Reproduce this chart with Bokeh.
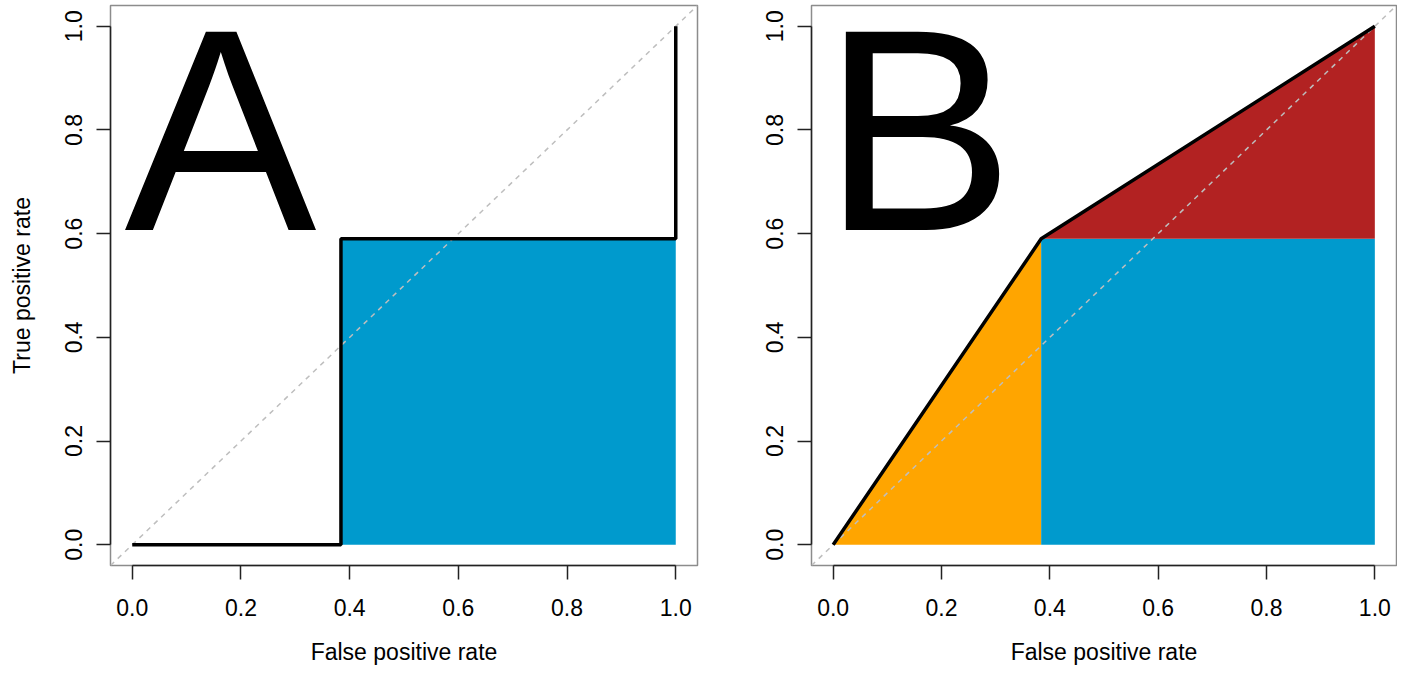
from bokeh.plotting import figure
from bokeh.layouts import row
from bokeh.models import Label, FixedTicker, Range1d
from bokeh.embed import file_html
from bokeh.resources import INLINE

# ROC data
fpr_a = [0.0, 0.384, 0.384, 1.0, 1.0]
tpr_a = [0.0, 0.0, 0.59, 0.59, 1.0]
fpr_b = [0.0, 0.384, 1.0]
tpr_b = [0.0, 0.59, 1.0]
ticks = [0.0, 0.2, 0.4, 0.6, 0.8, 1.0]
tick_labels = {0.0: "0.0", 0.2: "0.2", 0.4: "0.4", 0.6: "0.6", 0.8: "0.8", 1.0: "1.0"}
panel_letters = ["A", "B"]

BLUE = "#009ACD"
RED = "#B22222"
ORANGE = "#FFA500"
FONT = "Liberation Sans"


def make_fig(width, left, right, ylabel):
    p = figure(width=width, height=667, output_backend="svg", toolbar_location=None,
               x_range=Range1d(-0.04, 1.04), y_range=Range1d(-0.04, 1.04),
               min_border_left=left, min_border_right=right, min_border_top=5,
               min_border_bottom=101)
    p.grid.visible = False
    p.outline_line_color = "#8c8c8c"
    p.outline_line_width = 1.5
    p.background_fill_color = "white"
    p.border_fill_color = "white"
    for ax in (p.xaxis[0], p.yaxis[0]):
        ax.ticker = FixedTicker(ticks=ticks)
        ax.major_label_overrides = tick_labels
        ax.bounds = (0, 1)
        ax.axis_line_color = "#222222"
        ax.axis_line_width = 1.5
        ax.major_tick_out = 14
        ax.major_tick_in = 0
        ax.major_tick_line_color = "#222222"
        ax.major_tick_line_width = 1.5
        ax.minor_tick_line_color = None
        ax.major_label_text_font = FONT
        ax.major_label_text_font_size = "23px"
        ax.major_label_text_color = "black"
        ax.axis_label_text_font = FONT
        ax.axis_label_text_font_size = "23px"
        ax.axis_label_text_font_style = "normal"
        ax.axis_label_text_color = "black"
    p.xaxis.major_label_standoff = 19
    p.xaxis.axis_label = "False positive rate"
    p.xaxis.axis_label_standoff = 20
    p.yaxis.major_label_orientation = "vertical"
    p.yaxis.major_label_standoff = 14
    if ylabel:
        p.yaxis.axis_label = ylabel
        p.yaxis.axis_label_standoff = 28
    return p


def diagonal(p):
    p.line([-0.04, 1.04], [-0.04, 1.04], line_color="#BEBEBE", line_dash="5 5", line_width=1.5)


# Panel A
pa = make_fig(703, 110, 6, "True positive rate")
pa.quad(left=fpr_a[2], right=fpr_a[3], bottom=tpr_a[1], top=tpr_a[2],
        fill_color=BLUE, line_color=None)
diagonal(pa)
pa.line(fpr_a, tpr_a, line_color="black", line_width=3.5)
pa.add_layout(Label(x=-0.0143, y=0.800, text=panel_letters[0], text_font=FONT,
                    text_font_size="288px", text_baseline="alphabetic", text_align="left",
                    text_color="black"))

# Panel B
pb = make_fig(694, 108, 1, None)
pb.patch([fpr_b[0], fpr_b[1], fpr_b[1]], [tpr_b[0], tpr_b[1], tpr_b[0]],
         fill_color=ORANGE, line_color=None)
pb.quad(left=fpr_b[1], right=fpr_b[2], bottom=tpr_b[0], top=tpr_b[1],
        fill_color=BLUE, line_color=None)
pb.patch([fpr_b[1], fpr_b[2], fpr_b[2]], [tpr_b[1], tpr_b[2], tpr_b[1]],
         fill_color=RED, line_color=None)
diagonal(pb)
pb.line(fpr_b, tpr_b, line_color="black", line_width=3.5)
pb.add_layout(Label(x=-0.0202, y=0.800, text=panel_letters[1], text_font=FONT,
                    text_font_size="288px", text_baseline="alphabetic", text_align="left",
                    text_color="black"))

layout = row(pa, pb)
open("out.html", "w").write(file_html(layout, INLINE))
